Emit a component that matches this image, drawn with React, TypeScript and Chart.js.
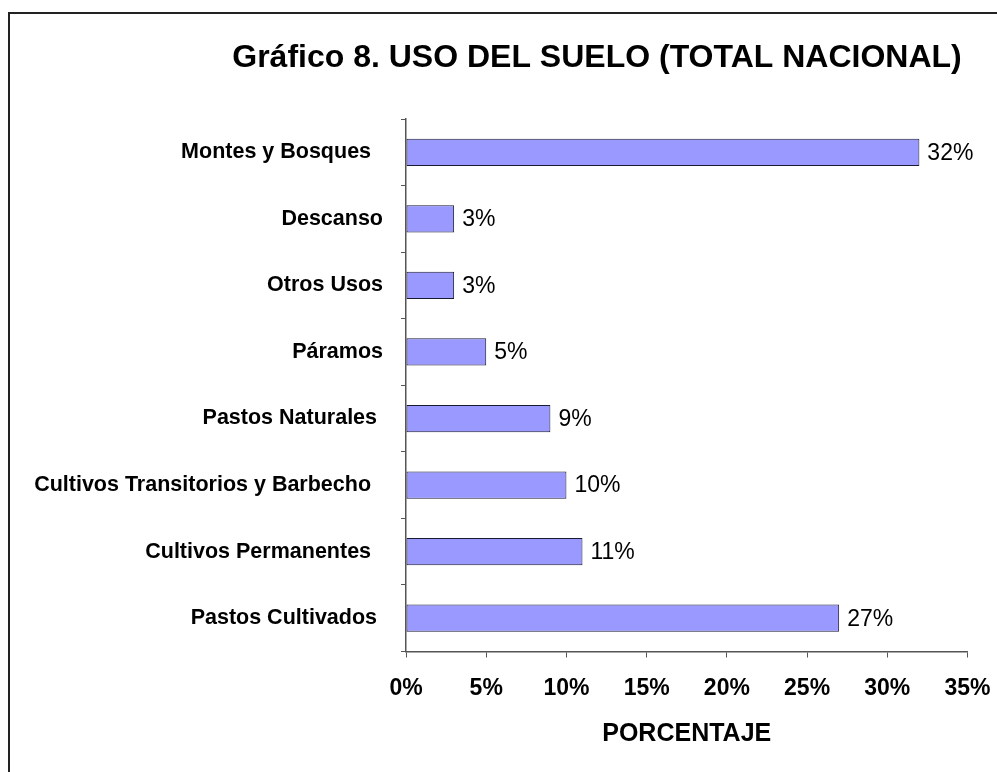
import React, { useEffect, useRef } from "react";
import { Chart, registerables } from "chart.js";

Chart.register(...registerables);

const TITLE = "Gráfico 8. USO DEL SUELO (TOTAL NACIONAL)";
const AXIS_TITLE = "PORCENTAJE";
const categories = [
  "Montes y Bosques  ",
  "Descanso",
  "Otros Usos",
  "Páramos",
  "Pastos Naturales ",
  "Cultivos Transitorios y Barbecho  ",
  "Cultivos Permanentes  ",
  "Pastos Cultivados ",
];
const values = [32, 3, 3, 5, 9, 10, 11, 27];
const xTicks = [0, 5, 10, 15, 20, 25, 30, 35];

const FONT = "'Liberation Sans', Arial, Helvetica, sans-serif";

const overlayPlugin = {
  id: "overlay",
  afterDatasetsDraw(chart: any) {
    const ctx = chart.ctx;
    const meta = chart.getDatasetMeta(0);
    ctx.save();
    ctx.fillStyle = "#000";
    ctx.font = `23px ${FONT}`;
    ctx.textAlign = "left";
    ctx.textBaseline = "middle";
    meta.data.forEach((bar: any, i: number) => {
      ctx.fillText(values[i] + "%", bar.x + 8, bar.y + 1);
    });
    ctx.font = `bold 32px ${FONT}`;
    ctx.textAlign = "center";
    ctx.fillText(TITLE, 587, 44);
    ctx.restore();
  },
};

export default function App() {
  const ref = useRef<HTMLCanvasElement | null>(null);
  useEffect(() => {
    if (!ref.current) return;
    const chart = new Chart(ref.current, {
      type: "bar",
      data: {
        labels: categories,
        datasets: [
          {
            data: values,
            backgroundColor: "#9999FF",
            borderColor: "#1a1a33",
            borderWidth: 1,
            borderSkipped: false,
            barPercentage: 0.41,
            categoryPercentage: 1,
          },
        ],
      },
      options: {
        indexAxis: "y",
        animation: false,
        responsive: false,
        maintainAspectRatio: false,
        layout: { padding: { top: 105, right: 0, left: 0, bottom: 0 } },
        plugins: {
          legend: { display: false },
          title: { display: false },
          tooltip: { enabled: false },
        },
        scales: {
          x: {
            type: "linear",
            min: 0,
            max: 35,
            afterBuildTicks: (s: any) => {
              s.ticks = xTicks.map((v) => ({ value: v }));
            },
            afterFit: (s: any) => {
              s.height = 120.5;
              s.paddingRight = 29.5;
            },
            ticks: {
              callback: (v: any) => v + "%",
              color: "#000",
              font: { family: FONT, size: 23, weight: "bold" },
              padding: 17,
              maxRotation: 0,
            },
            grid: {
              drawOnChartArea: false,
              drawTicks: true,
              tickLength: 6,
              color: "#555",
            },
            border: { display: true, color: "#555", width: 1.5 },
            title: {
              display: true,
              text: AXIS_TITLE,
              color: "#000",
              font: { family: FONT, size: 25, weight: "bold" },
              padding: { top: 0, bottom: 22.5 },
            },
          },
          y: {
            type: "category",
            offset: true,
            afterFit: (s: any) => {
              s.width = 396;
            },
            ticks: {
              color: "#000",
              font: { family: FONT, size: 21.5, weight: "bold" },
              padding: 18,
              autoSkip: false,
            },
            grid: {
              offset: true,
              drawOnChartArea: false,
              drawTicks: true,
              tickLength: 5,
              color: "#555",
            },
            border: { display: true, color: "#555", width: 1.5 },
          },
        },
      },
      plugins: [overlayPlugin],
    } as any);
    return () => chart.destroy();
  }, []);
  return (
    <div
      style={{
        position: "fixed",
        left: 8,
        top: 12,
        width: 989,
        height: 760,
        borderLeft: "2px solid #222",
        borderTop: "2px solid #222",
        background: "#fff",
        overflow: "hidden",
      }}
    >
      <canvas ref={ref} width={987} height={758} style={{ display: "block" }} />
    </div>
  );
}
